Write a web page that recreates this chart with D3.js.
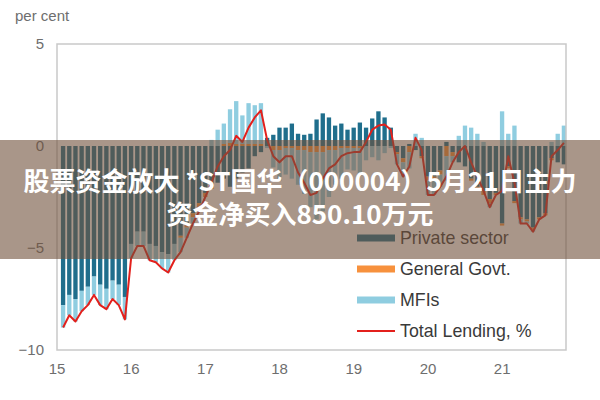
<!DOCTYPE html>
<html>
<head>
<meta charset="utf-8">
<script src="https://cdn.jsdelivr.net/npm/d3@7"></script>
<style>
  body { margin: 0; background: #fff; }
  svg { display: block; }
</style>
</head>
<body>
<div id="chart-area"></div>
<script>
// monthly data, Jan 2015 - Oct 2021
var years = ["15", "16", "17", "18", "19", "20", "21"];
var monthsPerYear = ["01","02","03","04","05","06","07","08","09","10","11","12"];

var privateSector = [
  -7.8, -7.3, -7.5, -7.1, -6.9, -6.4, -6.8, -7.0, -6.6, -6.8, -7.4, -4.8,
  -4.2, -4.2, -4.8, -4.9, -5.2, -5.3, -4.8, -4.4, -3.8, -3.3, -2.8, -2.3,
  -2.0, -1.8, -1.6, -2.0, -1.6, -1.3, -1.1, -0.5, -0.3, 0.4, 0.55, 0.9,
  0.9, 1.1, 0.6, 0.55, 0.6, 1.3, 1.6, 1.4, 1.0, 1.1, 0.8, 0.9,
  1.15, 0.9, 1.35, 1.7, 1.4, 0.9, -0.3, -0.6, 0.1, -0.2, -0.5, -1.5,
  -1.5, -1.2, 0.2, -0.3, -0.8, -1.0, -1.6, -2.0, -2.2, -2.6, -2.3, -3.8,
  -1.0, -2.7, -3.5, -3.6, -4.0, -3.5, -3.3, -0.6, -0.8, -0.9
];
var generalGovt = [
  0.0, 0.0, 0.0, 0.0, 0.0, 0.0, 0.0, 0.0, 0.0, 0.0, 0.0, 0.0,
  0.0, 0.0, 0.0, 0.0, 0.0, 0.0, 0.0, -0.1, -0.2, -0.2, -0.3, -0.2,
  -0.1, 0.0, 0.1, 0.15, 0.1, 0.1, 0.1, 0.1, 0.1, 0.0, -0.2, -0.2,
  -0.1, -0.1, -0.2, -0.2, -0.3, -0.3, -0.3, -0.2, -0.2, -0.1, -0.1, -0.1,
  -0.1, 0.0, 0.0, 0.0, 0.0, 0.0, -0.1, -0.2, -0.3, 0.0, -0.1, -0.2,
  -0.2, -0.2, -0.5, -0.2, 0.0, 0.0, -0.1, -0.1, -0.2, -0.2, -0.1, -0.1,
  -0.1, -0.1, -0.1, -0.1, -0.1, -0.1, -0.1, -0.1, 0.0, 0.0
];
var mfis = [
  -1.1, -1.0, -1.1, -1.0, -0.9, -0.9, -1.0, -1.0, -0.9, -1.0, -1.1, -0.7,
  -0.7, -0.7, -0.8, -0.8, -0.8, -0.9, -0.8, -0.7, -0.5, -0.3, -0.1, 0.0,
  0.3, 0.8, 1.0, 1.65, 2.1, 1.4, 2.0, 1.9, 2.0, -0.1, -0.85, -1.5,
  -1.3, -1.5, -1.7, -2.15, -2.7, -3.3, -2.9, -2.3, -1.7, -1.5, -1.05, -1.1,
  -1.35, -0.7, -0.55, -0.7, -0.35, -0.1, -0.5, -0.7, -0.8, 0.6, 0.4, -0.7,
  -0.7, -0.6, -1.2, -0.3, 0.5, 1.0, 0.9, 0.6, 0.2, -0.2, 0.0, 1.7,
  0.6, 1.0, -0.2, -0.1, -0.1, 0.0, 0.0, 0.2, 0.6, 1.0
];
var totalLending = [
  -8.9, -8.3, -8.6, -8.1, -7.8, -7.3, -7.8, -8.0, -7.5, -7.8, -8.5, -5.5,
  -4.9, -4.9, -5.6, -5.7, -6.0, -6.2, -5.6, -5.2, -4.5, -3.8, -3.2, -2.5,
  -1.8, -1.0, -0.5, -0.2, 0.5, 0.2, 0.9, 1.4, 1.75, 0.3, -0.5, -0.8,
  -0.5, -0.5, -1.3, -1.8, -2.4, -2.3, -1.6, -1.1, -0.9, -0.5, -0.35, -0.3,
  -0.3, 0.2, 0.8, 1.0, 1.05, 0.8, -0.9, -1.5, -1.0, 0.4, -0.2, -2.4,
  -2.4, -2.0, -1.5, -0.8, -0.3, 0.0, -0.8, -1.5, -2.2, -3.0, -2.4, -2.2,
  -0.5, -1.8, -3.8, -3.8, -4.2, -3.6, -3.4, -0.5, -0.2, 0.15
];
var yTicks = [5, 0, -5, -10];

var seriesNames = ["Private sector", "General Govt.", "MFIs"];
var seriesColors = ["#1f6e8c", "#f7913d", "#8fcde0"];
var lineName = "Total Lending, %";
var lineColor = "#e3201c";

var months = [];
years.forEach(function(yr) {
  monthsPerYear.forEach(function(m) { months.push(yr + "-" + m); });
});
months = months.slice(0, totalLending.length);

var rows = months.map(function(m, i) {
  return { month: m, p: privateSector[i], g: generalGovt[i], m: mfis[i], t: totalLending[i] };
});

var W = 600, H = 400;
var margin = { left: 57, right: 34, top: 44, bottom: 50 };
var width = W - margin.left - margin.right,
    height = H - margin.top - margin.bottom;

var svg = d3.select("#chart-area")
  .append("svg")
    .attr("width", W)
    .attr("height", H);

var g = svg.append("g")
  .attr("transform", "translate(" + margin.left + "," + margin.top + ")");

var x = d3.scaleBand()
  .domain(months)
  .range([3, width + 1])
  .paddingInner(0.3)
  .paddingOuter(0.15);

var y = d3.scaleLinear()
  .domain([-10, 5])
  .range([height, 0]);

// stacked bars
var stack = d3.stack()
  .keys(["p", "g", "m"])
  .offset(d3.stackOffsetDiverging);
var stacked = stack(rows);

g.append("g").selectAll("g")
  .data(stacked)
  .enter().append("g")
    .attr("fill", function(d, i) { return seriesColors[i]; })
  .selectAll("rect")
  .data(function(d) { return d; })
  .enter().append("rect")
    .attr("x", function(d) { return x(d.data.month); })
    .attr("width", x.bandwidth())
    .attr("y", function(d) { return y(Math.max(d[0], d[1])); })
    .attr("height", function(d) { return Math.abs(y(d[0]) - y(d[1])); });

// total line
var line = d3.line()
  .x(function(d) { return x(d.month) + x.bandwidth() / 2; })
  .y(function(d) { return y(d.t); });

g.append("path")
  .datum(rows)
  .attr("fill", "none")
  .attr("stroke", lineColor)
  .attr("stroke-width", 2)
  .attr("stroke-linejoin", "round")
  .attr("d", line);

// frame
g.append("rect")
  .attr("x", 0).attr("y", 0)
  .attr("width", width).attr("height", height)
  .attr("fill", "none")
  .attr("stroke", "#c9c9c9")
  .attr("stroke-width", 1.5);

// Y axis
var yAxis = g.append("g")
  .call(d3.axisLeft(y).tickValues(yTicks).tickSize(0).tickPadding(13));
yAxis.select(".domain").remove();
yAxis.selectAll("text")
  .attr("font-family", "'Liberation Sans', Arial, sans-serif")
  .attr("font-size", "15px")
  .attr("fill", "#6e6e6e");

// X labels (one per year, at start of January)
var lead = 3 + x.step() * x.paddingOuter();
var xAxis = g.append("g")
  .attr("transform", "translate(0," + height + ")")
  .call(d3.axisBottom(x)
    .tickValues(years.map(function(yr) { return yr + "-01"; }))
    .tickFormat(function(d) { return d.slice(0, 2); })
    .tickSize(0).tickPadding(13));
xAxis.select(".domain").remove();
xAxis.selectAll(".tick")
  .attr("transform", function(d) { return "translate(" + (x(d) - lead) + ",0)"; });
xAxis.selectAll("text")
  .attr("font-family", "'Liberation Sans', Arial, sans-serif")
  .attr("font-size", "15px")
  .attr("fill", "#6e6e6e");

// unit label
svg.append("text")
  .attr("x", 15)
  .attr("y", 21)
  .attr("font-family", "'Liberation Sans', Arial, sans-serif")
  .attr("font-size", "15px")
  .attr("fill", "#6e6e6e")
  .text("per cent");

// legend
var legend = svg.append("g")
  .attr("transform", "translate(357,238)");
var legendItems = seriesNames.concat([lineName]);
legendItems.forEach(function(name, i) {
  var row = legend.append("g").attr("transform", "translate(0," + (i * 31) + ")");
  if (i < 3) {
    row.append("rect")
      .attr("x", 0).attr("y", -3.5)
      .attr("width", 38).attr("height", 7)
      .attr("fill", seriesColors[i]);
  } else {
    row.append("line")
      .attr("x1", 0).attr("x2", 38)
      .attr("y1", 0).attr("y2", 0)
      .attr("stroke", lineColor)
      .attr("stroke-width", 2);
  }
  row.append("text")
    .attr("x", 43)
    .attr("y", 6)
    .attr("font-family", "'Liberation Sans', Arial, sans-serif")
    .attr("font-size", "17.8px")
    .attr("fill", "#3a3a3a")
    .text(name);
});

// headline banner on top
svg.append("rect")
  .attr("x", 0).attr("y", 140)
  .attr("width", W).attr("height", 119)
  .attr("fill", "rgb(112,80,58)")
  .attr("fill-opacity", 0.6);

var headline = ["股票资金放大 *ST国华（000004）5月21日主力", "资金净买入850.10万元"];
headline.forEach(function(txt, i) {
  svg.append("text")
    .attr("x", W / 2)
    .attr("y", 191 + i * 33)
    .attr("text-anchor", "middle")
    .attr("font-family", "'Noto Sans CJK SC', sans-serif")
    .attr("font-weight", "bold")
    .attr("font-size", "26px")
    .attr("fill", "#ffffff")
    .text(txt);
});
</script>
</body>
</html>
